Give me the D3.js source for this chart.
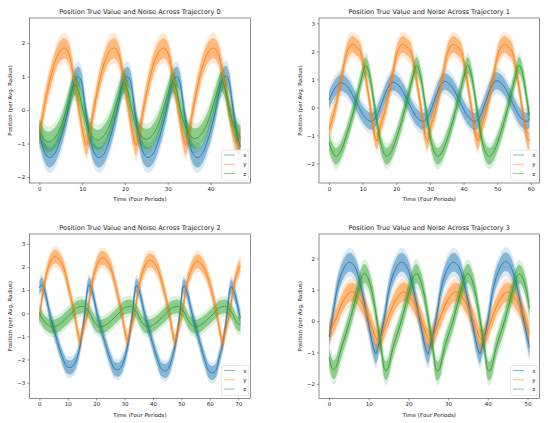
<!DOCTYPE html>
<html>
<head>
<meta charset="utf-8">
<script src="https://cdn.jsdelivr.net/npm/d3@7"></script>
<style>
  body { margin: 0; background: #fff; }
  svg { display: block; }
  text { font-family: "DejaVu Sans", sans-serif; fill: #222; }
</style>
</head>
<body>
<svg id="chart" width="548" height="423"></svg>
<script>
// series names / colours (matplotlib tab10)
const SERIES = ["x", "y", "z"];
const COLORS = ["#1f77b4", "#ff7f0e", "#2ca02c"];

// true-value curves, [time, position]
const traj0X = [[0,-0.7],[1.2,-1.25],[2.4,-1.42],[3.6,-1.3],[5.1,-0.8],[6.7,0],[7.9,0.75],[9.1,1.0],[9.9,0.8],[10.8,0],[11.8,-0.8],[12.7,-1.25],[13.9,-1.42],[15.1,-1.3],[16.6,-0.8],[18.2,0],[19.4,0.75],[20.6,1.0],[21.4,0.8],[22.3,0],[23.3,-0.8],[24.2,-1.25],[25.4,-1.42],[26.6,-1.3],[28.1,-0.8],[29.7,0],[30.9,0.75],[32.1,1.0],[32.9,0.8],[33.8,0],[34.8,-0.8],[35.7,-1.25],[36.9,-1.42],[38.1,-1.3],[39.6,-0.8],[41.2,0],[42.4,0.75],[43.6,1.02],[44.4,0.8],[45.3,0],[46.3,-0.8],[47.0,-1.1]];
const traj0Y = [[0,-0.8],[1.0,0],[2.7,1.0],[4.3,1.65],[5.9,1.85],[7.0,1.65],[8.0,1.0],[9.3,0],[10.4,-0.8],[11.0,-1.05],[11.6,-0.8],[12.7,0],[14.3,1.0],[15.9,1.65],[17.5,1.85],[18.6,1.65],[19.6,1.0],[20.9,0],[22.0,-0.8],[22.6,-1.05],[23.2,-0.8],[24.3,0],[25.9,1.0],[27.5,1.65],[29.1,1.85],[30.2,1.65],[31.2,1.0],[32.5,0],[33.6,-0.8],[34.2,-1.05],[34.8,-0.8],[35.9,0],[37.5,1.0],[39.1,1.65],[40.7,1.85],[41.9,1.65],[43.0,1.0],[44.4,0],[45.6,-0.8],[46.3,-1.05],[47.0,-0.8]];
const traj0Z = [[0,-0.6],[1.0,-0.85],[2.2,-0.95],[3.9,-0.78],[5.4,-0.38],[6.9,0.28],[8.4,0.75],[9.2,0.55],[10.2,0],[11.7,-0.65],[13.6,-0.9],[15.3,-0.72],[16.8,-0.33],[18.3,0.32],[19.8,0.8],[20.6,0.6],[21.6,0],[23.1,-0.63],[25.0,-0.87],[26.7,-0.7],[28.2,-0.3],[29.7,0.33],[31.2,0.82],[32.0,0.62],[33.0,0],[34.5,-0.62],[36.4,-0.85],[38.1,-0.68],[39.6,-0.28],[41.1,0.35],[42.6,0.85],[43.4,0.65],[44.4,0],[45.9,-0.6],[47.0,-0.78]];

const traj1X = [[0,0.27],[1.6,0.65],[3.6,0.88],[5.85,0.68],[8.1,0.19],[10.35,-0.3],[12.6,-0.5],[14.2,-0.3],[15.8,0.19],[17.4,0.68],[19.0,0.9],[21.25,0.7],[23.5,0.2],[25.75,-0.3],[28.0,-0.5],[29.6,-0.3],[31.2,0.2],[32.8,0.7],[34.4,0.93],[36.65,0.72],[38.9,0.21],[41.15,-0.3],[43.4,-0.5],[45.0,-0.3],[46.6,0.22],[48.2,0.73],[49.8,0.95],[52.05,0.74],[54.3,0.22],[56.55,-0.3],[58.8,-0.5],[59.6,-0.42]];
const traj1Y = [[0,-0.8],[1.9,0],[3.6,1.0],[5.4,2.0],[7.0,2.25],[8.2,2.15],[9.3,2.0],[11.0,1.0],[12.3,0],[13.6,-1.0],[14.3,-1.2],[15.0,-0.8],[16.9,0],[18.6,1.0],[20.4,2.0],[22.0,2.25],[23.2,2.15],[24.3,2.0],[26.0,1.0],[27.3,0],[28.6,-1.0],[29.3,-1.2],[30.0,-0.8],[31.9,0],[33.6,1.0],[35.4,2.0],[37.0,2.25],[38.2,2.15],[39.3,2.0],[41.0,1.0],[42.3,0],[43.6,-1.0],[44.3,-1.2],[45.1,-0.8],[47.0,0],[48.7,1.0],[50.5,2.0],[52.1,2.25],[53.3,2.15],[54.4,2.0],[56.1,1.0],[57.4,0],[58.7,-1.0],[59.4,-1.2],[59.6,-1.15]];
const traj1Z = [[0,-1.25],[0.9,-1.55],[2.0,-1.75],[3.3,-1.6],[5.2,-1.0],[7.6,0],[9.6,1.0],[10.9,1.5],[11.6,1.35],[12.3,1.0],[13.6,0],[14.9,-1.0],[15.9,-1.5],[17.1,-1.75],[18.4,-1.6],[20.3,-1.0],[22.7,0],[24.7,1.0],[26.0,1.5],[26.7,1.35],[27.4,1.0],[28.7,0],[30.0,-1.0],[31.0,-1.5],[32.3,-1.75],[33.6,-1.6],[35.5,-1.0],[37.9,0],[39.9,1.0],[41.2,1.5],[41.9,1.35],[42.6,1.0],[43.9,0],[45.2,-1.0],[46.2,-1.5],[47.6,-1.75],[48.9,-1.6],[50.8,-1.0],[53.2,0],[55.2,1.0],[56.5,1.5],[57.2,1.35],[57.9,1.0],[59.2,0],[59.6,-0.3]];

const traj2X = [[0,1.1],[0.8,1.25],[1.8,1.0],[3.6,0],[5.8,-1.0],[8.4,-2.0],[9.6,-2.3],[10.8,-2.35],[12.0,-2.25],[13.1,-2.0],[14.9,-1.0],[16.0,0],[16.8,0.95],[17.5,1.25],[18.5,1.0],[20.3,0],[22.5,-1.0],[25.0,-2.0],[26.3,-2.38],[27.5,-2.45],[28.7,-2.35],[29.9,-2.0],[31.7,-1.0],[32.8,0],[33.6,0.95],[34.2,1.2],[35.2,0.95],[37.0,0],[39.2,-1.0],[41.6,-2.0],[43.0,-2.43],[44.2,-2.5],[45.4,-2.4],[46.6,-2.0],[48.4,-1.0],[49.5,0],[50.3,0.95],[50.9,1.2],[51.9,0.95],[53.7,0],[55.9,-1.0],[58.2,-2.0],[59.7,-2.5],[60.9,-2.58],[62.1,-2.48],[63.2,-2.0],[65.0,-1.0],[66.1,0],[66.9,0.9],[67.6,1.15],[68.6,0.9],[70.4,0],[70.8,-0.2]];
const traj2Y = [[0,-0.2],[1.4,1.0],[3.3,2.05],[5.5,2.45],[7.0,2.33],[8.5,2.0],[10.5,1.0],[12.3,0],[13.8,-1.0],[14.4,-1.2],[15.3,-0.7],[16.9,0],[18.1,1.0],[20.0,2.0],[22.2,2.4],[23.7,2.28],[25.2,1.95],[27.2,1.0],[29.0,0],[30.5,-1.0],[31.1,-1.2],[32.0,-0.7],[33.6,0],[34.8,1.0],[36.7,1.9],[38.9,2.3],[40.4,2.18],[41.9,1.85],[43.9,1.0],[45.7,0],[47.2,-1.0],[47.8,-1.25],[48.7,-0.75],[50.3,0],[51.5,1.0],[53.4,1.85],[55.6,2.25],[57.1,2.13],[58.6,1.8],[60.6,1.0],[62.4,0],[63.9,-1.0],[64.5,-1.3],[65.4,-0.8],[67.0,0],[68.2,1.0],[70.1,1.9],[70.8,2.05]];
const traj2Z = [[0,0.0],[1.6,-0.35],[3.2,-0.52],[4.8,-0.58],[6.8,-0.5],[8.8,-0.3],[11.3,0],[13.4,0.25],[15.4,0.3],[16.6,0.2],[17.8,0],[19.4,-0.4],[21.5,-0.58],[23.5,-0.5],[25.5,-0.3],[28.0,0],[30.1,0.25],[32.1,0.3],[33.3,0.2],[34.5,0],[36.1,-0.4],[38.2,-0.58],[40.2,-0.5],[42.2,-0.3],[44.7,0],[46.8,0.25],[48.8,0.3],[50.0,0.2],[51.2,0],[52.8,-0.4],[54.9,-0.58],[56.9,-0.5],[58.9,-0.3],[61.4,0],[63.5,0.25],[65.5,0.3],[66.7,0.2],[67.9,0],[69.5,-0.4],[70.8,-0.5]];

const traj3X = [[0,-0.5],[0.7,0],[2.0,1.0],[3.6,1.65],[5.2,1.88],[6.8,1.65],[8.2,1.0],[9.8,0],[11.2,-0.85],[11.8,-1.05],[12.3,-0.85],[13.8,0],[15.1,1.0],[16.7,1.65],[18.3,1.88],[19.9,1.65],[21.3,1.0],[22.9,0],[24.3,-0.85],[24.9,-1.05],[25.4,-0.85],[26.9,0],[28.2,1.0],[29.8,1.65],[31.4,1.88],[33.0,1.65],[34.4,1.0],[36.0,0],[37.4,-0.85],[38.0,-1.05],[38.5,-0.85],[40.0,0],[41.3,1.0],[42.9,1.65],[44.5,1.9],[46.1,1.65],[47.5,1.0],[49.1,0],[50.5,-0.85]];
const traj3Y = [[0,-0.35],[1.5,0],[3.2,0.55],[5.7,0.93],[8.6,0.5],[10.3,0],[11.7,-0.5],[12.2,-0.6],[13.3,-0.45],[14.6,0],[16.3,0.55],[18.8,0.93],[21.7,0.5],[23.4,0],[24.8,-0.5],[25.3,-0.6],[26.4,-0.45],[27.7,0],[29.4,0.55],[31.9,0.93],[34.8,0.5],[36.5,0],[37.9,-0.5],[38.4,-0.6],[39.5,-0.45],[40.8,0],[42.5,0.55],[45.0,0.93],[47.9,0.5],[49.6,0],[50.5,-0.4]];
const traj3Z = [[0,-1.15],[0.6,-1.45],[1.2,-1.55],[1.9,-1.42],[2.8,-1.0],[5.2,0],[7.3,1.0],[8.2,1.4],[9.0,1.52],[9.9,1.35],[10.7,1.0],[12.1,0],[13.3,-1.0],[13.8,-1.45],[14.3,-1.58],[15.0,-1.45],[15.8,-1.0],[18.2,0],[20.3,1.0],[21.2,1.4],[22.0,1.52],[22.9,1.35],[23.7,1.0],[25.1,0],[26.3,-1.0],[26.8,-1.47],[27.3,-1.6],[28.0,-1.47],[28.8,-1.0],[31.2,0],[33.3,1.0],[34.2,1.4],[35.0,1.52],[35.9,1.35],[36.7,1.0],[38.1,0],[39.3,-1.0],[39.8,-1.47],[40.3,-1.6],[41.0,-1.47],[41.8,-1.0],[44.2,0],[46.3,1.0],[47.2,1.4],[48.0,1.5],[48.9,1.35],[49.7,1.0],[50.5,0.4]];

const TITLES = [
  "Position True Value and Noise Across Trajectory 0",
  "Position True Value and Noise Across Trajectory 1",
  "Position True Value and Noise Across Trajectory 2",
  "Position True Value and Noise Across Trajectory 3"
];
const END_TIMES = [47.0, 59.6, 70.8, 50.5];
const Y_LIMITS = [[-2.18, 2.75], [-2.70, 3.19], [-3.69, 3.43], [-2.47, 2.78]];
const X_TICKS = [[0, 10, 20, 30, 40], [0, 10, 20, 30, 40, 50, 60], [0, 10, 20, 30, 40, 50, 60, 70], [0, 10, 20, 30, 40, 50]];
const Y_TICKS = [[-2, -1, 0, 1, 2], [-2, -1, 0, 1, 2, 3], [-3, -2, -1, 0, 1, 2, 3], [-2, -1, 0, 1, 2]];
// half-width of the noisy band around each true curve (dense part / spikes)
const NOISE_INNER = 0.3;
const NOISE_OUTER = 0.46;

const trajectories = [
  [traj0X, traj0Y, traj0Z],
  [traj1X, traj1Y, traj1Z],
  [traj2X, traj2Y, traj2Z],
  [traj3X, traj3Y, traj3Z]
];

// axes boxes in px
const PANELS = [
  { left: 29.3, right: 250.5, top: 18, bottom: 183 },
  { left: 319, right: 539.5, top: 18, bottom: 183 },
  { left: 29.3, right: 250.5, top: 234, bottom: 398.5 },
  { left: 319, right: 539.5, top: 234, bottom: 398.5 }
];

const TICK_FS = 5.5;
const LABEL_FS = 5.5;
const TITLE_FS = 6.6;

const svg = d3.select("#chart");

PANELS.forEach((p, i) => {
  const T = END_TIMES[i];
  const xScale = d3.scaleLinear().domain([-0.05 * T, T * 1.05]).range([p.left, p.right]);
  const yScale = d3.scaleLinear().domain(Y_LIMITS[i]).range([p.bottom, p.top]);

  const g = svg.append("g").attr("class", "panel-" + i);

  g.append("clipPath").attr("id", "clip" + i)
    .append("rect")
    .attr("x", p.left).attr("y", p.top)
    .attr("width", p.right - p.left).attr("height", p.bottom - p.top);

  const plot = g.append("g").attr("clip-path", "url(#clip" + i + ")");

  const bandOf = (w) => d3.area()
    .x(d => xScale(d[0]))
    .y0(d => yScale(d[1] - w))
    .y1(d => yScale(d[1] + w))
    .curve(d3.curveMonotoneX);

  // noisy bands first
  trajectories[i].forEach((s, k) => {
    plot.append("path").datum(s)
      .attr("d", bandOf(NOISE_OUTER))
      .attr("fill", COLORS[k]).attr("fill-opacity", 0.16);
    plot.append("path").datum(s)
      .attr("d", bandOf(NOISE_INNER))
      .attr("fill", COLORS[k]).attr("fill-opacity", 0.45);
  });

  // true values on top
  const line = d3.line()
    .x(d => xScale(d[0]))
    .y(d => yScale(d[1]))
    .curve(d3.curveMonotoneX);
  trajectories[i].forEach((s, k) => {
    plot.append("path").datum(s)
      .attr("d", line)
      .attr("fill", "none")
      .attr("stroke", COLORS[k])
      .attr("stroke-width", 0.9);
  });

  // axes
  const fmt = d3.format("d");
  const xa = g.append("g")
    .attr("transform", "translate(0," + p.bottom + ")")
    .call(d3.axisBottom(xScale).tickValues(X_TICKS[i]).tickFormat(fmt).tickSize(2).tickPadding(2));
  const ya = g.append("g")
    .attr("transform", "translate(" + p.left + ",0)")
    .call(d3.axisLeft(yScale).tickValues(Y_TICKS[i]).tickFormat(fmt).tickSize(2).tickPadding(2));
  [xa, ya].forEach(a => {
    a.select(".domain").remove();
    a.selectAll("line").attr("stroke", "#333").attr("stroke-width", 0.5);
    a.selectAll("text")
      .attr("font-size", TICK_FS)
      .attr("font-family", "DejaVu Sans, sans-serif")
      .attr("fill", "#222");
  });

  g.append("rect")
    .attr("x", p.left).attr("y", p.top)
    .attr("width", p.right - p.left).attr("height", p.bottom - p.top)
    .attr("fill", "none").attr("stroke", "#333").attr("stroke-width", 0.55);

  // title + labels
  g.append("text")
    .attr("x", (p.left + p.right) / 2).attr("y", p.top - 3.6)
    .attr("text-anchor", "middle")
    .attr("font-size", TITLE_FS)
    .text(TITLES[i]);

  g.append("text")
    .attr("x", (p.left + p.right) / 2).attr("y", p.bottom + 18)
    .attr("text-anchor", "middle")
    .attr("font-size", LABEL_FS)
    .text("Time (Four Periods)");

  g.append("text")
    .attr("transform", "translate(" + (p.left - 17.5) + "," + ((p.top + p.bottom) / 2) + ") rotate(-90)")
    .attr("text-anchor", "middle")
    .attr("font-size", LABEL_FS)
    .text("Position (per Avg. Radius)");

  // legend, lower right
  const lg = g.append("g").attr("transform", "translate(" + (p.right - 28.8) + "," + (p.bottom - 33) + ")");
  lg.append("rect")
    .attr("width", 26.6).attr("height", 30).attr("rx", 1.5)
    .attr("fill", "#fff").attr("fill-opacity", 0.8)
    .attr("stroke", "#d0d0d0").attr("stroke-width", 0.5);
  SERIES.forEach((name, k) => {
    const yy = 5 + k * 9.3;
    lg.append("line")
      .attr("x1", 2.3).attr("x2", 13.3).attr("y1", yy).attr("y2", yy)
      .attr("stroke", COLORS[k]).attr("stroke-opacity", 0.55).attr("stroke-width", 1);
    lg.append("text")
      .attr("x", 21.5).attr("y", yy + 2)
      .attr("font-size", LABEL_FS)
      .text(name);
  });
});
</script>
</body>
</html>
